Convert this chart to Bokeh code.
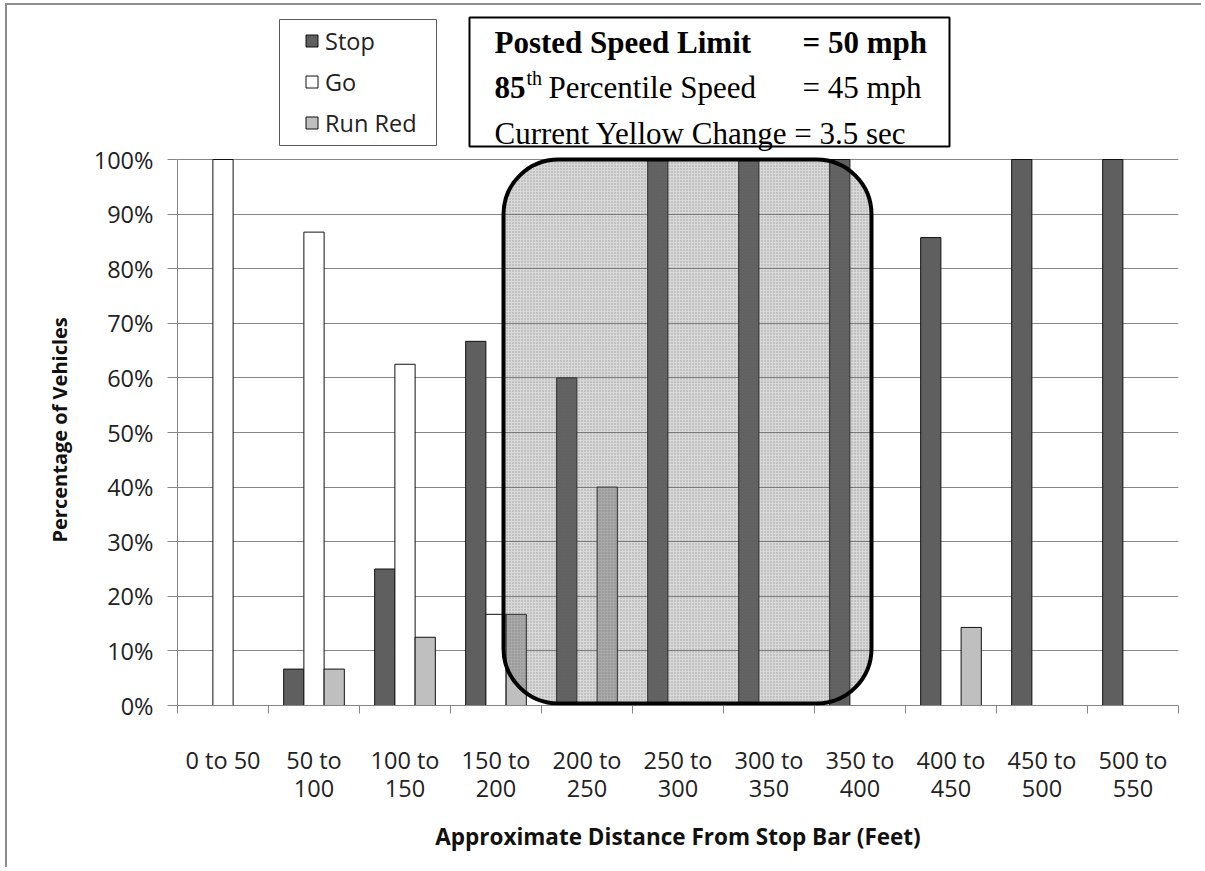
from bokeh.plotting import figure
from bokeh.models import (Range1d, FixedTicker, LinearAxis, NumeralTickFormatter, Title,
                          Legend, LegendItem, BoxAnnotation, Label, ColumnDataSource)
from bokeh.transform import dodge
from bokeh.embed import file_html
from bokeh.resources import INLINE

# ---------------- data ----------------
categories = ["0 to 50", "50 to\n100", "100 to\n150", "150 to\n200", "200 to\n250",
              "250 to\n300", "300 to\n350", "350 to\n400", "400 to\n450",
              "450 to\n500", "500 to\n550"]
stop = [0.0, 0.0667, 0.25, 0.667, 0.60, 1.0, 1.0, 1.0, 0.857, 1.0, 1.0]
go = [1.0, 0.867, 0.625, 0.167, 0.0, 0.0, 0.0, 0.0, 0.0, 0.0, 0.0]
run_red = [0.0, 0.0667, 0.125, 0.167, 0.40, 0.0, 0.0, 0.0, 0.143, 0.0, 0.0]
series_names = ["Stop", "Go", "Run Red"]
y_ticks = [0.0, 0.1, 0.2, 0.3, 0.4, 0.5, 0.6, 0.7, 0.8, 0.9, 1.0]

SANS = "Open Sans"
SERIF = "Liberation Serif"
GRID = "#868686"

n = len(categories)
centers = [i + 0.5 for i in range(n)]
bar_w = 1 / 4.5

# canvas placed at page (7, 5) by the css margin + border below
OX, OY = 7, 5
W, H = 1196, 864
# page-pixel helpers for annotation placement (frame: x 177..1178, 0% at y 705, 100% at y 159)
PX0, PXU = 177.0, 91.0
PY0, PYU = 705.0, 546.0
FRAME_TOP = 12
Y_END = (PY0 - FRAME_TOP) / PYU


def dx(px):
    return (px - PX0) / PXU


def dy(py):
    return (PY0 - py) / PYU


src = ColumnDataSource(dict(x=centers, stop=stop, go=go, run_red=run_red))

p = figure(width=W, height=H, x_range=Range1d(0, n), y_range=Range1d(0, Y_END),
           output_backend="svg", toolbar_location=None, x_axis_type=None,
           min_border_left=int(PX0) - OX, min_border_right=W - (1178 - OX),
           min_border_top=FRAME_TOP - OY, min_border_bottom=H - (int(PY0) - OY))
p.outline_line_color = None
p.background_fill_color = "white"
p.border_fill_color = "white"
p.styles = {"margin-left": "5px", "margin-top": "3px",
            "border-top": "2px solid #8c8c8c", "border-left": "2px solid #8c8c8c"}

# y axis
ya = p.yaxis[0]
ya.ticker = FixedTicker(ticks=y_ticks)
ya.bounds = (0, 1)
ya.formatter = NumeralTickFormatter(format="0%")
ya.major_tick_out = 10
ya.major_tick_in = 0
ya.minor_tick_line_color = None
ya.axis_line_color = GRID
ya.major_tick_line_color = GRID
ya.major_label_standoff = 14
ya.major_label_text_font = SANS
ya.major_label_text_font_size = "23.5px"
ya.major_label_text_color = "#222222"

p.add_layout(Title(text="Percentage of Vehicles", align="left", offset=163,
                   vertical_align="bottom", standoff=36,
                   text_font=SANS, text_font_size="20px", text_font_style="bold",
                   text_color="#111111"), "left")

p.ygrid.ticker = FixedTicker(ticks=y_ticks)
p.ygrid.grid_line_color = GRID
p.ygrid.grid_line_width = 1

# x axes: boundary ticks + centered labels
tick_axis = LinearAxis(ticker=FixedTicker(ticks=list(range(n + 1))),
                       major_label_overrides={i: "" for i in range(n + 1)},
                       major_label_text_font_size="1px",
                       major_tick_out=8, major_tick_in=0,
                       minor_tick_line_color=None,
                       axis_line_color=GRID, major_tick_line_color=GRID,
                       major_label_standoff=0)
p.add_layout(tick_axis, "below")

label_axis = LinearAxis(ticker=FixedTicker(ticks=centers),
                        major_label_overrides={c: lab for c, lab in zip(centers, categories)},
                        axis_line_color=None, major_tick_line_color=None,
                        minor_tick_line_color=None,
                        major_label_standoff=24,
                        major_label_text_font=SANS,
                        major_label_text_font_size="23.5px",
                        major_label_text_line_height=0.9,
                        major_label_text_color="#222222",
                        axis_label="Approximate Distance From Stop Bar (Feet)",
                        axis_label_text_font=SANS,
                        axis_label_text_font_size="22.5px",
                        axis_label_text_font_style="bold",
                        axis_label_text_color="#111111",
                        axis_label_standoff=14)
p.add_layout(label_axis, "below")

# bars
r_stop = p.vbar(x=dodge("x", -bar_w, range=p.x_range), top="stop", width=bar_w, source=src,
                fill_color="#5f5f5f", line_color="#111111", line_width=1)
r_go = p.vbar(x=dodge("x", 0, range=p.x_range), top="go", width=bar_w, source=src,
              fill_color="white", line_color="#111111", line_width=1)
r_red = p.vbar(x=dodge("x", bar_w, range=p.x_range), top="run_red", width=bar_w, source=src,
               fill_color="#bfbfbf", line_color="#111111", line_width=1)

# highlighted region (rounded, stippled)
region = BoxAnnotation(left=dx(503), right=dx(871), bottom=dy(703), top=dy(159),
                       border_radius=55,
                       line_color="black", line_width=4, line_alpha=1.0,
                       fill_color="#707070", fill_alpha=0.27,
                       hatch_pattern=".", hatch_scale=3, hatch_weight=1,
                       hatch_color="#555555", hatch_alpha=0.45)
p.add_layout(region)

# legend (frame drawn as a box, items from the bar renderers)
legend_frame = BoxAnnotation(left=dx(279), right=dx(436), bottom=dy(145), top=dy(19),
                             line_color="#5a5a5a", line_width=1, line_alpha=1.0,
                             fill_color="white", fill_alpha=1.0)
p.add_layout(legend_frame)

legend = Legend(items=[LegendItem(label=series_names[0], renderers=[r_stop]),
                       LegendItem(label=series_names[1], renderers=[r_go]),
                       LegendItem(label=series_names[2], renderers=[r_red])],
                location=(127, 566), orientation="vertical",
                border_line_color=None, background_fill_alpha=0,
                padding=0, spacing=8, margin=0,
                glyph_width=15, glyph_height=15, label_standoff=6,
                label_text_font=SANS, label_text_font_size="23.5px",
                label_text_color="#222222", label_height=33)
p.add_layout(legend, "center")

# text box
info_frame = BoxAnnotation(left=dx(469), right=dx(949), bottom=dy(146), top=dy(17),
                           line_color="black", line_width=2, line_alpha=1.0,
                           fill_color="white", fill_alpha=1.0)
p.add_layout(info_frame)


def lab(text, px, py, size="31px", style="normal"):
    p.add_layout(Label(x=dx(px), y=dy(py), text=text,
                       text_font=SERIF, text_font_size=size, text_font_style=style,
                       text_color="black", text_baseline="alphabetic", text_align="left"))


lab("Posted Speed Limit", 494, 42, style="bold")
lab("= 50 mph", 802, 42, style="bold")
lab("85", 494, 87, style="bold")
lab("th", 526, 77, size="20px")
lab("Percentile Speed", 548, 87)
lab("= 45 mph", 802, 87)
lab("Current Yellow Change = 3.5 sec", 494, 133)

open("out.html", "w").write(file_html(p, INLINE))
